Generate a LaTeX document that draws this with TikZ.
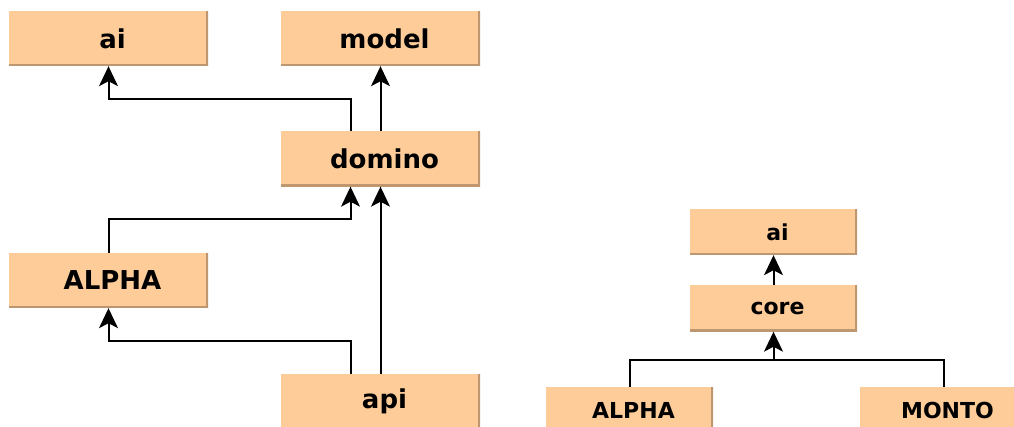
\documentclass[tikz,border=0pt]{standalone}
\usepackage{fontspec}
\setmainfont{DejaVu Sans}
\usepackage{tikz}
\usetikzlibrary{arrows.meta, positioning}

\definecolor{pkgfill}{RGB}{254,204,153}
\definecolor{pkgedge}{RGB}{190,150,112}

\tikzset{
  pkg/.style={fill=pkgfill, inner sep=0pt, font=\bfseries\fontsize{26}{30}\selectfont,
    minimum width=199pt, minimum height=55pt,
    path picture={\draw[pkgedge, line width=4pt]
      (path picture bounding box.north east) -- (path picture bounding box.south east)
      -- (path picture bounding box.south west);}},
  smallpkg/.style={pkg, font=\bfseries\fontsize{22}{26}\selectfont,
    minimum width=167pt, minimum height=46pt},
  dep/.style={line width=2pt,
    -{Stealth[length=20pt, width=19pt, inset=5pt, line width=1.5pt]}},
  link/.style={line width=2pt}
}

\begin{document}
\begin{tikzpicture}[x=1pt, y=-1pt]
  \useasboundingbox (0,0) rectangle (1014,427);
  % Left packages
  \node[pkg] (ai)     at (108.5,38.5)  {\hspace*{8pt}ai};
  \node[pkg] (model)  at (380.5,38.5)  {\hspace*{8pt}model};
  \node[pkg] (domino) at (380.5,159)   {\hspace*{8pt}domino};
  \node[pkg] (alpha)  at (108.5,280.5) {\hspace*{8pt}ALPHA};
  \node[pkg] (api)    at (380.5,401.5) {\hspace*{8pt}api};
  % Left dependencies
  \draw[dep] ([xshift=-30pt]domino.north) -- ++(0,-32) -| (ai.south);
  \draw[dep] (domino.north) -- (model.south);
  \draw[dep] (alpha.north) -- ++(0,-34) -| ([xshift=-30pt]domino.south);
  \draw[dep] (api.north) -- (domino.south);
  \draw[dep] ([xshift=-30pt]api.north) -- ++(0,-33) -| (alpha.south);
  % Right packages
  \node[smallpkg] (ai2)    at (773.5,232)   {\hspace*{8pt}ai};
  \node[smallpkg] (core)   at (773.5,308.5) {\hspace*{8pt}core};
  \node[smallpkg] (alpha2) at (629.5,410)   {\hspace*{8pt}ALPHA};
  \node[smallpkg] (monto)  at (943.5,410)   {\hspace*{8pt}MONTO};
  % Right dependencies
  \draw[dep] (core.north) -- (ai2.south);
  \coordinate (join) at (773.5,360);
  \draw[link] (alpha2.north) |- (join) -| (monto.north);
  \draw[dep] (join) -- (core.south);
\end{tikzpicture}
\end{document}
